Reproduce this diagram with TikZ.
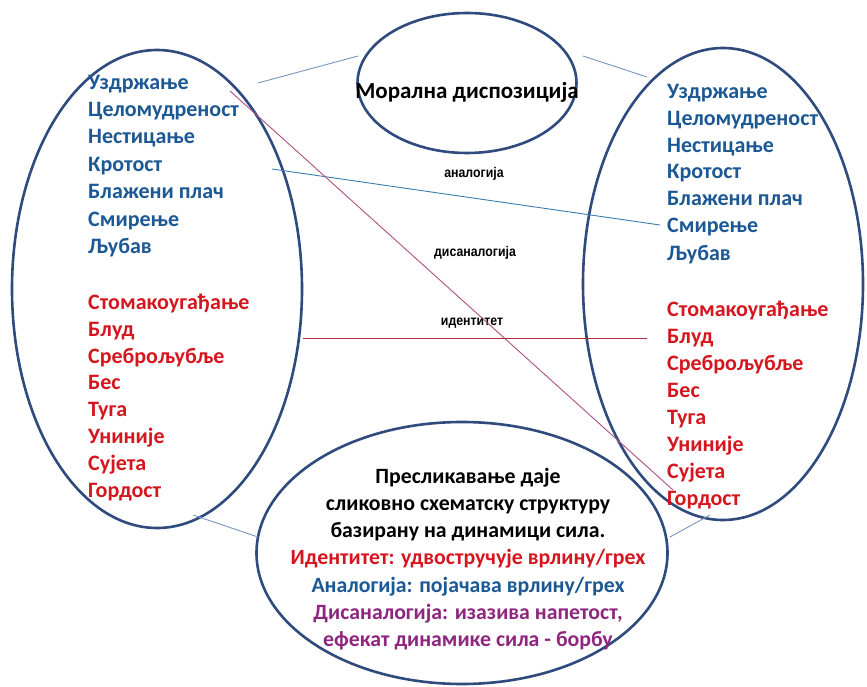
\documentclass[tikz,border=0pt]{standalone}
\usepackage{fontspec}
\setmainfont{Carlito}
\newfontfamily\labelfont{Liberation Sans}
\usetikzlibrary{shapes.geometric}

\definecolor{rimblue}{RGB}{47,75,125}
\definecolor{virtueblue}{RGB}{28,88,148}
\definecolor{sinred}{RGB}{214,22,30}
\definecolor{tensionpurple}{RGB}{142,38,128}
\definecolor{linkgrey}{RGB}{122,150,190}
\definecolor{analogyblue}{RGB}{60,125,175}
\definecolor{disanalogy}{RGB}{176,80,130}
\definecolor{identityred}{RGB}{176,48,64}

\begin{document}
\begin{tikzpicture}[x=1pt,y=-1pt,
  ring/.style={draw=rimblue, line width=2.6pt, ellipse, inner sep=0pt},
  listfont/.style={font=\bfseries\fontsize{22}{25}\selectfont},
  % entries are placed by the middle of their lower-case letters
  entry/.style={listfont, anchor=base west, inner sep=0pt, yshift=-6pt},
  virtue/.style={entry, text=virtueblue},
  sin/.style={entry, text=sinred},
  relation/.style={inner sep=0pt, font=\labelfont\bfseries\fontsize{14}{16}\selectfont},
  thinlink/.style={line width=0.9pt}]

\useasboundingbox (0,0) rectangle (867,687);
\fill[white] (0,0) rectangle (867,687);

% the four ellipses
\node[ring, minimum width=290, minimum height=478] (left) at (157,289) {};
\node[ring, minimum width=280, minimum height=472] (right) at (723,284) {};
\node[ring, minimum width=219, minimum height=140] (top) at (467,83) {};
\node[ring, minimum width=411, minimum height=262] (bottom) at (462,553) {};

% title of the top ellipse
\node[inner sep=0pt, anchor=base, yshift=-7pt, font=\bfseries\fontsize{23}{25}\selectfont] (title) at (467,92) {Морална диспозиција};

% virtues and passions, left column
\node[virtue] (l1) at (88,84) {Уздржање};
\node[virtue] (l2) at (88,111) {Целомудреност};
\node[virtue] (l3) at (88,138) {Нестицање};
\node[virtue] (l4) at (88,166) {Кротост};
\node[virtue] (l5) at (88,193) {Блажени плач};
\node[virtue] (l6) at (88,220) {Смирење};
\node[virtue] (l7) at (88,247) {Љубав};
\node[sin] (l8) at (88,303) {Стомакоугађање};
\node[sin] (l9) at (88,330) {Блуд};
\node[sin] (l10) at (88,357) {Среброљубље};
\node[sin] (l11) at (88,383) {Бес};
\node[sin] (l12) at (88,410) {Туга};
\node[sin] (l13) at (88,437) {Униније};
\node[sin] (l14) at (88,464) {Сујета};
\node[sin] (l15) at (88,491) {Гордост};

% virtues and passions, right column
\node[virtue] (r1) at (667,93) {Уздржање};
\node[virtue] (r2) at (667,120) {Целомудреност};
\node[virtue] (r3) at (667,147) {Нестицање};
\node[virtue] (r4) at (667,173) {Кротост};
\node[virtue] (r5) at (667,200) {Блажени плач};
\node[virtue] (r6) at (667,227) {Смирење};
\node[virtue] (r7) at (667,254) {Љубав};
\node[sin] (r8) at (667,310) {Стомакоугађање};
\node[sin] (r9) at (667,337) {Блуд};
\node[sin] (r10) at (667,364) {Среброљубље};
\node[sin] (r11) at (667,391) {Бес};
\node[sin] (r12) at (667,418) {Туга};
\node[sin] (r13) at (667,445) {Униније};
\node[sin] (r14) at (667,472) {Сујета};
\node[sin] (r15) at (667,499) {Гордост};

% relation labels
\node[relation] (lblA) at (474,174) {\scalebox{0.88}[1]{аналогија}};
\node[relation] (lblD) at (475,253) {\scalebox{0.88}[1]{дисаналогија}};
\node[relation] (lblI) at (472,323) {\scalebox{0.88}[1]{идентитет}};

% text of the bottom ellipse
\node[align=center, inner sep=0pt, font=\bfseries\fontsize{21.8}{27.2}\selectfont] (summary) at (468,559)
  {Пресликавање даје\\
   сликовно схематску структуру\\
   базирану на динамици сила.\\
   \textcolor{sinred}{Идентитет: удвостручује врлину/грех}\\
   \textcolor{virtueblue}{Аналогија: појачава врлину/грех}\\
   \textcolor{tensionpurple}{Дисаналогија: изазива напетост,}\\
   \textcolor{tensionpurple}{ефекат динамике сила - борбу}};

% end points of the links between the ellipses
\coordinate (lt1) at (258,83);
\coordinate (lt2) at (358,56);
\coordinate (tr1) at (583,56);
\coordinate (tr2) at (647,77);
\coordinate (lb1) at (193,515);
\coordinate (lb2) at (258,537);
\coordinate (br1) at (670,537);
\coordinate (br2) at (710,515);
\coordinate (aStart) at (272,169);
\coordinate (aEnd) at (660,225);
\coordinate (dStart) at (230,91);
\coordinate (dEnd) at (673,490);
\coordinate (iEnd) at (647,338);

\draw[thinlink, linkgrey] (lt1) -- (lt2);
\draw[thinlink, linkgrey] (tr1) -- (tr2);
\draw[thinlink, linkgrey] (lb1) -- (lb2);
\draw[thinlink, linkgrey] (br1) -- (br2);

% analogy, disanalogy and identity links
\draw[thinlink, analogyblue] (aStart) -- (aEnd);
\draw[thinlink, disanalogy] (dStart) -- (dEnd);
\draw[thinlink, identityred] (left.east |- iEnd) -- (iEnd);
\end{tikzpicture}
\end{document}
